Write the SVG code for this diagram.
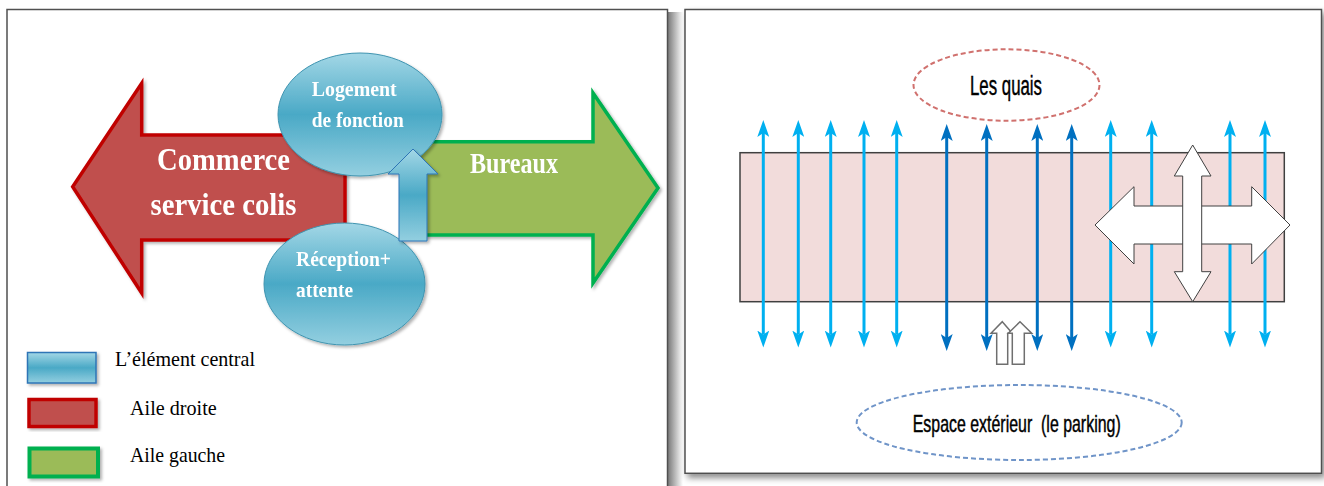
<svg xmlns="http://www.w3.org/2000/svg" width="1324" height="486" viewBox="0 0 1324 486">
<style>
.serifB{font-family:"Liberation Serif","Times New Roman",serif;font-weight:bold;fill:#ffffff}
.serif{font-family:"Liberation Serif","Times New Roman",serif;fill:#000000;font-size:22px}
.sans{font-family:"Liberation Sans",Arial,sans-serif;fill:#000000;stroke:#000000;stroke-width:0.45}
.light{stroke:#00b0f0;stroke-width:3;fill:none}
.dark{stroke:#0070c0;stroke-width:3;fill:none}
.panel{fill:#ffffff;stroke:#505050;stroke-width:1.5}
</style>
<defs>
<linearGradient id="gBlue" x1="0" y1="0" x2="0" y2="1">
<stop offset="0" stop-color="#a3d7e6"/>
<stop offset="0.5" stop-color="#4aa9c6"/>
<stop offset="1" stop-color="#93cfe0"/>
</linearGradient>
<linearGradient id="gShadowR" x1="0" y1="0" x2="1" y2="0">
<stop offset="0" stop-color="#7a7a7a"/>
<stop offset="1" stop-color="#ffffff"/>
</linearGradient>
<filter id="sh" x="-10%" y="-10%" width="130%" height="130%">
<feDropShadow dx="2" dy="2" stdDeviation="1.5" flood-color="#000000" flood-opacity="0.3"/>
</filter>
<filter id="panelSh" x="-5%" y="-5%" width="110%" height="115%">
<feDropShadow dx="3" dy="4" stdDeviation="3" flood-color="#000000" flood-opacity="0.45"/>
</filter>
<marker id="mL" markerUnits="userSpaceOnUse" markerWidth="18" markerHeight="12" refX="4" refY="6" orient="auto-start-reverse">
<path d="M0,0 L17,6 L0,12 L4,6 Z" fill="#00b0f0"/>
</marker>
<marker id="mD" markerUnits="userSpaceOnUse" markerWidth="18" markerHeight="12" refX="4" refY="6" orient="auto-start-reverse">
<path d="M0,0 L17,6 L0,12 L4,6 Z" fill="#0070c0"/>
</marker>
</defs>

<!-- panels -->
<g id="leftPanel">
<rect x="668" y="12" width="15" height="474" fill="url(#gShadowR)"/>
<rect class="panel" x="7" y="9.5" width="660.5" height="490"/>
</g>
<g id="rightPanel">
<rect class="panel" x="685" y="9.5" width="636.5" height="463.8" filter="url(#panelSh)"/>
</g>

<!-- left diagram -->
<g id="aileDroite" filter="url(#sh)">
<polygon points="72.7,186.7 141.7,83.3 141.7,135 345,135 345,240 141.7,240 141.7,293" fill="#c0504d" stroke="#c00000" stroke-width="3.5" stroke-linejoin="miter"/>
<text class="serifB" x="223.5" y="170" font-size="31" text-anchor="middle" textLength="133" lengthAdjust="spacingAndGlyphs">Commerce</text>
<text class="serifB" x="223.5" y="215" font-size="31" text-anchor="middle" textLength="146" lengthAdjust="spacingAndGlyphs">service colis</text>
</g>
<g id="aileGauche" filter="url(#sh)">
<polygon points="405,141.7 593,141.7 593,93 658,188 593,283 593,235 405,235" fill="#9bbb59" stroke="#00b050" stroke-width="3.5"/>
<text class="serifB" x="470" y="173" font-size="30" textLength="88" lengthAdjust="spacingAndGlyphs">Bureaux</text>
</g>
<g id="logement" filter="url(#sh)">
<ellipse cx="360" cy="114.5" rx="82" ry="61.5" fill="url(#gBlue)" stroke="#3f94b0" stroke-width="1"/>
<text class="serifB" x="311.7" y="96" font-size="21" textLength="85" lengthAdjust="spacingAndGlyphs">Logement</text>
<text class="serifB" x="311.7" y="127" font-size="21" textLength="92" lengthAdjust="spacingAndGlyphs">de fonction</text>
</g>
<g id="reception" filter="url(#sh)">
<ellipse cx="344.5" cy="284" rx="80.5" ry="61" fill="url(#gBlue)" stroke="#3f94b0" stroke-width="1"/>
<text class="serifB" x="296" y="266" font-size="21" textLength="95" lengthAdjust="spacingAndGlyphs">Réception+</text>
<text class="serifB" x="296" y="297" font-size="21" textLength="57" lengthAdjust="spacingAndGlyphs">attente</text>
</g>
<g id="elementCentral" filter="url(#sh)">
<polygon points="413,149 438,174 427,174 427,241 399,241 399,174 388,174" fill="url(#gBlue)" stroke="#2e75b6" stroke-width="1"/>
</g>

<!-- legend -->
<g id="legendCentral">
<rect x="27.5" y="352.5" width="68.5" height="30.5" fill="url(#gBlue)" stroke="#2e75b6" stroke-width="1.5" filter="url(#sh)"/>
<text class="serif" x="115" y="366" textLength="140" lengthAdjust="spacingAndGlyphs">L’élément central</text>
</g>
<g id="legendDroite">
<rect x="29" y="399.5" width="67" height="27" fill="#c0504d" stroke="#c00000" stroke-width="3.5" filter="url(#sh)"/>
<text class="serif" x="130" y="415" textLength="86.7" lengthAdjust="spacingAndGlyphs">Aile droite</text>
</g>
<g id="legendGauche">
<rect x="29.5" y="448.5" width="68.5" height="28" fill="#9bbb59" stroke="#00b050" stroke-width="4" filter="url(#sh)"/>
<text class="serif" x="130" y="461.7" textLength="95" lengthAdjust="spacingAndGlyphs">Aile gauche</text>
</g>

<!-- right diagram -->
<g id="quais">
<ellipse cx="1006.5" cy="85" rx="93" ry="35.7" fill="none" stroke="#d0716e" stroke-width="2" stroke-dasharray="5 3"/>
<text class="sans" x="1006" y="95" font-size="27" text-anchor="middle" textLength="72" lengthAdjust="spacingAndGlyphs">Les quais</text>
</g>
<g id="batiment">
<rect x="740" y="152.7" width="544.3" height="149" fill="#f2dcdb" stroke="#404040" stroke-width="1.5"/>
</g>
<g id="connectors">
<line class="light" x1="763.3" y1="133" x2="763.3" y2="334.5" marker-start="url(#mL)" marker-end="url(#mL)"/>
<line class="light" x1="798.3" y1="133" x2="798.3" y2="334.5" marker-start="url(#mL)" marker-end="url(#mL)"/>
<line class="light" x1="830.7" y1="133" x2="830.7" y2="334.5" marker-start="url(#mL)" marker-end="url(#mL)"/>
<line class="light" x1="864" y1="133" x2="864" y2="334.5" marker-start="url(#mL)" marker-end="url(#mL)"/>
<line class="light" x1="896.7" y1="133" x2="896.7" y2="334.5" marker-start="url(#mL)" marker-end="url(#mL)"/>
<line class="dark" x1="946.7" y1="137" x2="946.7" y2="338" marker-start="url(#mD)" marker-end="url(#mD)"/>
<line class="dark" x1="986.7" y1="137" x2="986.7" y2="338" marker-start="url(#mD)" marker-end="url(#mD)"/>
<line class="dark" x1="1037.3" y1="137" x2="1037.3" y2="338" marker-start="url(#mD)" marker-end="url(#mD)"/>
<line class="dark" x1="1071.7" y1="137" x2="1071.7" y2="338" marker-start="url(#mD)" marker-end="url(#mD)"/>
<line class="light" x1="1110.7" y1="133" x2="1110.7" y2="334.5" marker-start="url(#mL)" marker-end="url(#mL)"/>
<line class="light" x1="1151.7" y1="133" x2="1151.7" y2="334.5" marker-start="url(#mL)" marker-end="url(#mL)"/>
<line class="light" x1="1230" y1="133" x2="1230" y2="334.5" marker-start="url(#mL)" marker-end="url(#mL)"/>
<line class="light" x1="1265" y1="133" x2="1265" y2="334.5" marker-start="url(#mL)" marker-end="url(#mL)"/>
</g>
<g id="circulation">
<polygon points="1095,225 1134,186.7 1134,206 1251.7,206 1251.7,186.7 1290,225 1251.7,264 1251.7,244 1134,244 1134,264" fill="#ffffff" stroke="#404040" stroke-width="1"/>
<polygon points="1192.7,145 1211,176 1201.7,176 1201.7,271.7 1211,271.7 1192.7,301.7 1174.3,271.7 1182.7,271.7 1182.7,176 1174.3,176" fill="#ffffff" stroke="#404040" stroke-width="1"/>
</g>
<g id="acces">
<polygon points="1002.3,321.7 1012.3,333.3 1007.7,333.3 1007.7,364.3 996.7,364.3 996.7,333.3 991,333.3" fill="#ffffff" stroke="#6f6f6f" stroke-width="1.5"/>
<polygon points="1020,321.7 1031.7,333.3 1024.3,333.3 1024.3,364.3 1012.3,364.3 1012.3,333.3 1008.3,333.3" fill="#ffffff" stroke="#6f6f6f" stroke-width="1.5"/>
</g>
<g id="parking">
<ellipse cx="1019.2" cy="422.5" rx="162.5" ry="37.5" fill="none" stroke="#6f94c8" stroke-width="2" stroke-dasharray="5 3"/>
<text class="sans" x="1016.7" y="431.7" font-size="24" text-anchor="middle" textLength="208" lengthAdjust="spacingAndGlyphs">Espace extérieur&#160; (le parking)</text>
</g>
</svg>
